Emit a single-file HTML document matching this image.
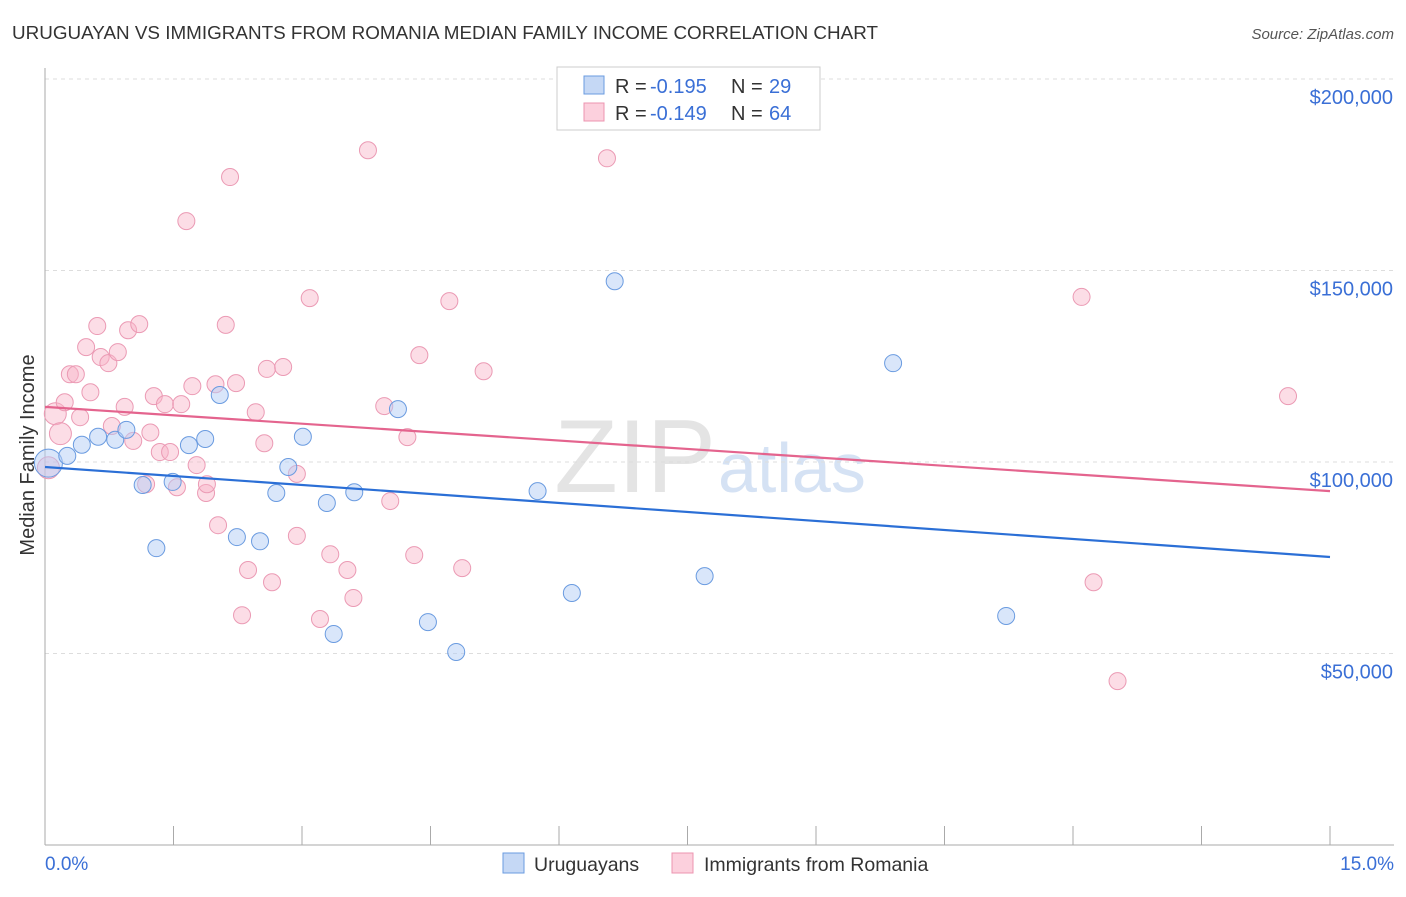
<!DOCTYPE html>
<html><head><meta charset="utf-8"><style>
body{margin:0;background:#fff;font-family:"Liberation Sans",sans-serif;}
svg text{font-family:"Liberation Sans",sans-serif;}
</style></head><body>
<svg id="chart" width="1406" height="892">
<text x="12" y="39" font-size="18" fill="#333" textLength="866" lengthAdjust="spacingAndGlyphs">URUGUAYAN VS IMMIGRANTS FROM ROMANIA MEDIAN FAMILY INCOME CORRELATION CHART</text>
<text x="1394" y="39" font-size="15" fill="#555" font-style="italic" text-anchor="end">Source: ZipAtlas.com</text>
<text x="716" y="492" font-size="104" fill="#e4e4e4" text-anchor="end" font-family="Liberation Serif">ZIP</text>
<text x="718" y="492" font-size="70" fill="#d5e2f4">atlas</text>
<g id="grid"></g><g id="marks"></g>
<text transform="translate(34,455) rotate(-90)" font-size="20" fill="#333" text-anchor="middle">Median Family Income</text>
<text x="45" y="870" font-size="19" fill="#3a6fd6">0.0%</text>
<text x="1394" y="870" font-size="19" fill="#3a6fd6" text-anchor="end">15.0%</text>
<g>
<rect x="557" y="67" width="263" height="63" fill="#fff" stroke="#ccc"/>
<rect x="584" y="76" width="20" height="18" fill="#c5d8f5" stroke="#6a9be0"/>
<rect x="584" y="103" width="20" height="18" fill="#fcd0dd" stroke="#ec94b0"/>
<text x="615" y="93" font-size="20" fill="#333">R =</text>
<text x="650" y="93" font-size="20" fill="#3a6fd6">-0.195</text>
<text x="731" y="93" font-size="20" fill="#333">N =</text>
<text x="769" y="93" font-size="20" fill="#3a6fd6">29</text>
<text x="615" y="120" font-size="20" fill="#333">R =</text>
<text x="650" y="120" font-size="20" fill="#3a6fd6">-0.149</text>
<text x="731" y="120" font-size="20" fill="#333">N =</text>
<text x="769" y="120" font-size="20" fill="#3a6fd6">64</text>
</g>
<g>
<rect x="503" y="853" width="21" height="20" fill="#c5d8f5" stroke="#6a9be0"/>
<text x="534" y="871" font-size="19.5" fill="#333">Uruguayans</text>
<rect x="672" y="853" width="21" height="20" fill="#fcd0dd" stroke="#ec94b0"/>
<text x="704" y="871" font-size="19.5" fill="#333">Immigrants from Romania</text>
</g>
</svg>
<script>
const yTicks=[50000,100000,150000,200000];
const yTickLabels=["$50,000","$100,000","$150,000","$200,000"];
const xTicks=[0,1.5,3,4.5,6,7.5,9,10.5,12,13.5,15];
const blueX=[0.04,0.26,0.43,0.62,0.82,0.95,1.14,1.30,1.49,1.68,1.87,2.04,2.24,2.51,2.70,2.84,3.01,3.29,3.61,3.37,4.12,4.47,4.80,5.75,6.15,6.65,7.70,9.90,11.22];
const blueY=[99.7,101.6,104.5,106.6,105.8,108.4,94.0,77.5,94.8,104.4,106.0,117.5,80.4,79.3,91.9,98.7,106.6,89.3,92.1,55.1,113.8,58.2,50.4,92.4,65.8,147.2,70.2,125.8,59.8];
const pinkX=[0.04,0.12,0.18,0.23,0.29,0.36,0.41,0.48,0.53,0.61,0.65,0.74,0.78,0.85,0.93,0.97,1.03,1.10,1.18,1.23,1.27,1.34,1.40,1.46,1.54,1.59,1.72,1.77,1.88,1.89,1.99,2.02,2.11,2.16,2.23,2.37,2.30,2.46,2.56,2.59,2.65,2.78,1.65,2.94,2.94,3.09,3.21,3.33,3.53,3.60,3.77,3.96,4.03,4.23,4.31,4.37,4.72,4.87,5.12,6.56,12.10,12.24,12.52,14.51];
const pinkY=[98.5,112.6,107.4,115.6,122.9,122.9,111.7,130.0,118.2,135.5,127.4,125.8,109.4,128.7,114.4,134.4,105.5,136.0,94.2,107.7,117.2,102.6,115.1,102.6,93.4,115.1,119.8,99.2,91.9,94.2,120.3,83.5,135.8,174.4,120.6,71.8,60.0,113.0,104.9,124.3,68.6,124.8,162.9,96.9,80.7,142.8,59.0,75.9,71.8,64.5,181.4,114.6,89.8,106.5,75.7,127.9,142.0,72.3,123.7,179.3,143.1,68.6,42.8,117.2];
const blueTrend=[98.7,75.2];
const pinkTrend=[114.4,92.4];
const NS="http://www.w3.org/2000/svg";
const X=v=>45+v/15*1285;
const Y=v=>845-v/200000*766;
const Yk=v=>Y(v*1000);
function mk(tag,attrs,parent){const e=document.createElementNS(NS,tag);for(const k in attrs)e.setAttribute(k,attrs[k]);parent.appendChild(e);return e;}
const grid=document.getElementById('grid'),marks=document.getElementById('marks');
yTicks.forEach((t,i)=>{
 const l=mk('line',{x1:45,x2:1394,y1:Y(t),y2:Y(t),stroke:'#ddd','stroke-dasharray':'4,4'},grid);
 
 
 const tx=mk('text',{x:1393,y:Y(t)+25,'font-size':20,fill:'#3a6fd6','text-anchor':'end'},grid);
 tx.textContent=yTickLabels[i];
 
 
});
const ax=mk('line',{x1:45,x2:45,y1:68,y2:845,stroke:'#aaa'},grid);


const bx=mk('line',{x1:45,x2:1394,y1:845,y2:845,stroke:'#aaa'},grid);


xTicks.forEach(t=>{
 const l=mk('line',{x1:X(t),x2:X(t),y1:826,y2:845,stroke:'#aaa'},grid);
 
 
});
pinkX.forEach((x,i)=>{
 const c=mk('circle',{cx:X(x),cy:Yk(pinkY[i]),r:(i<3?11:8.5),fill:'rgba(248,180,200,0.45)',stroke:'#eb9ab4','stroke-width':1},marks);
 
 
});
blueX.forEach((x,i)=>{
 const c=mk('circle',{cx:X(x),cy:Yk(blueY[i]),r:(i==0?14:8.5),fill:'rgba(180,205,245,0.5)',stroke:'#6a9be0','stroke-width':1},marks);
 
 
});
const bl=mk('line',{x1:X(0),y1:Yk(blueTrend[0]),x2:X(15),y2:Yk(blueTrend[1]),stroke:'#2b6fd6','stroke-width':2.2},marks);


const pl=mk('line',{x1:X(0),y1:Yk(pinkTrend[0]),x2:X(15),y2:Yk(pinkTrend[1]),stroke:'#e4648e','stroke-width':2.2},marks);


</script>
</body></html>
